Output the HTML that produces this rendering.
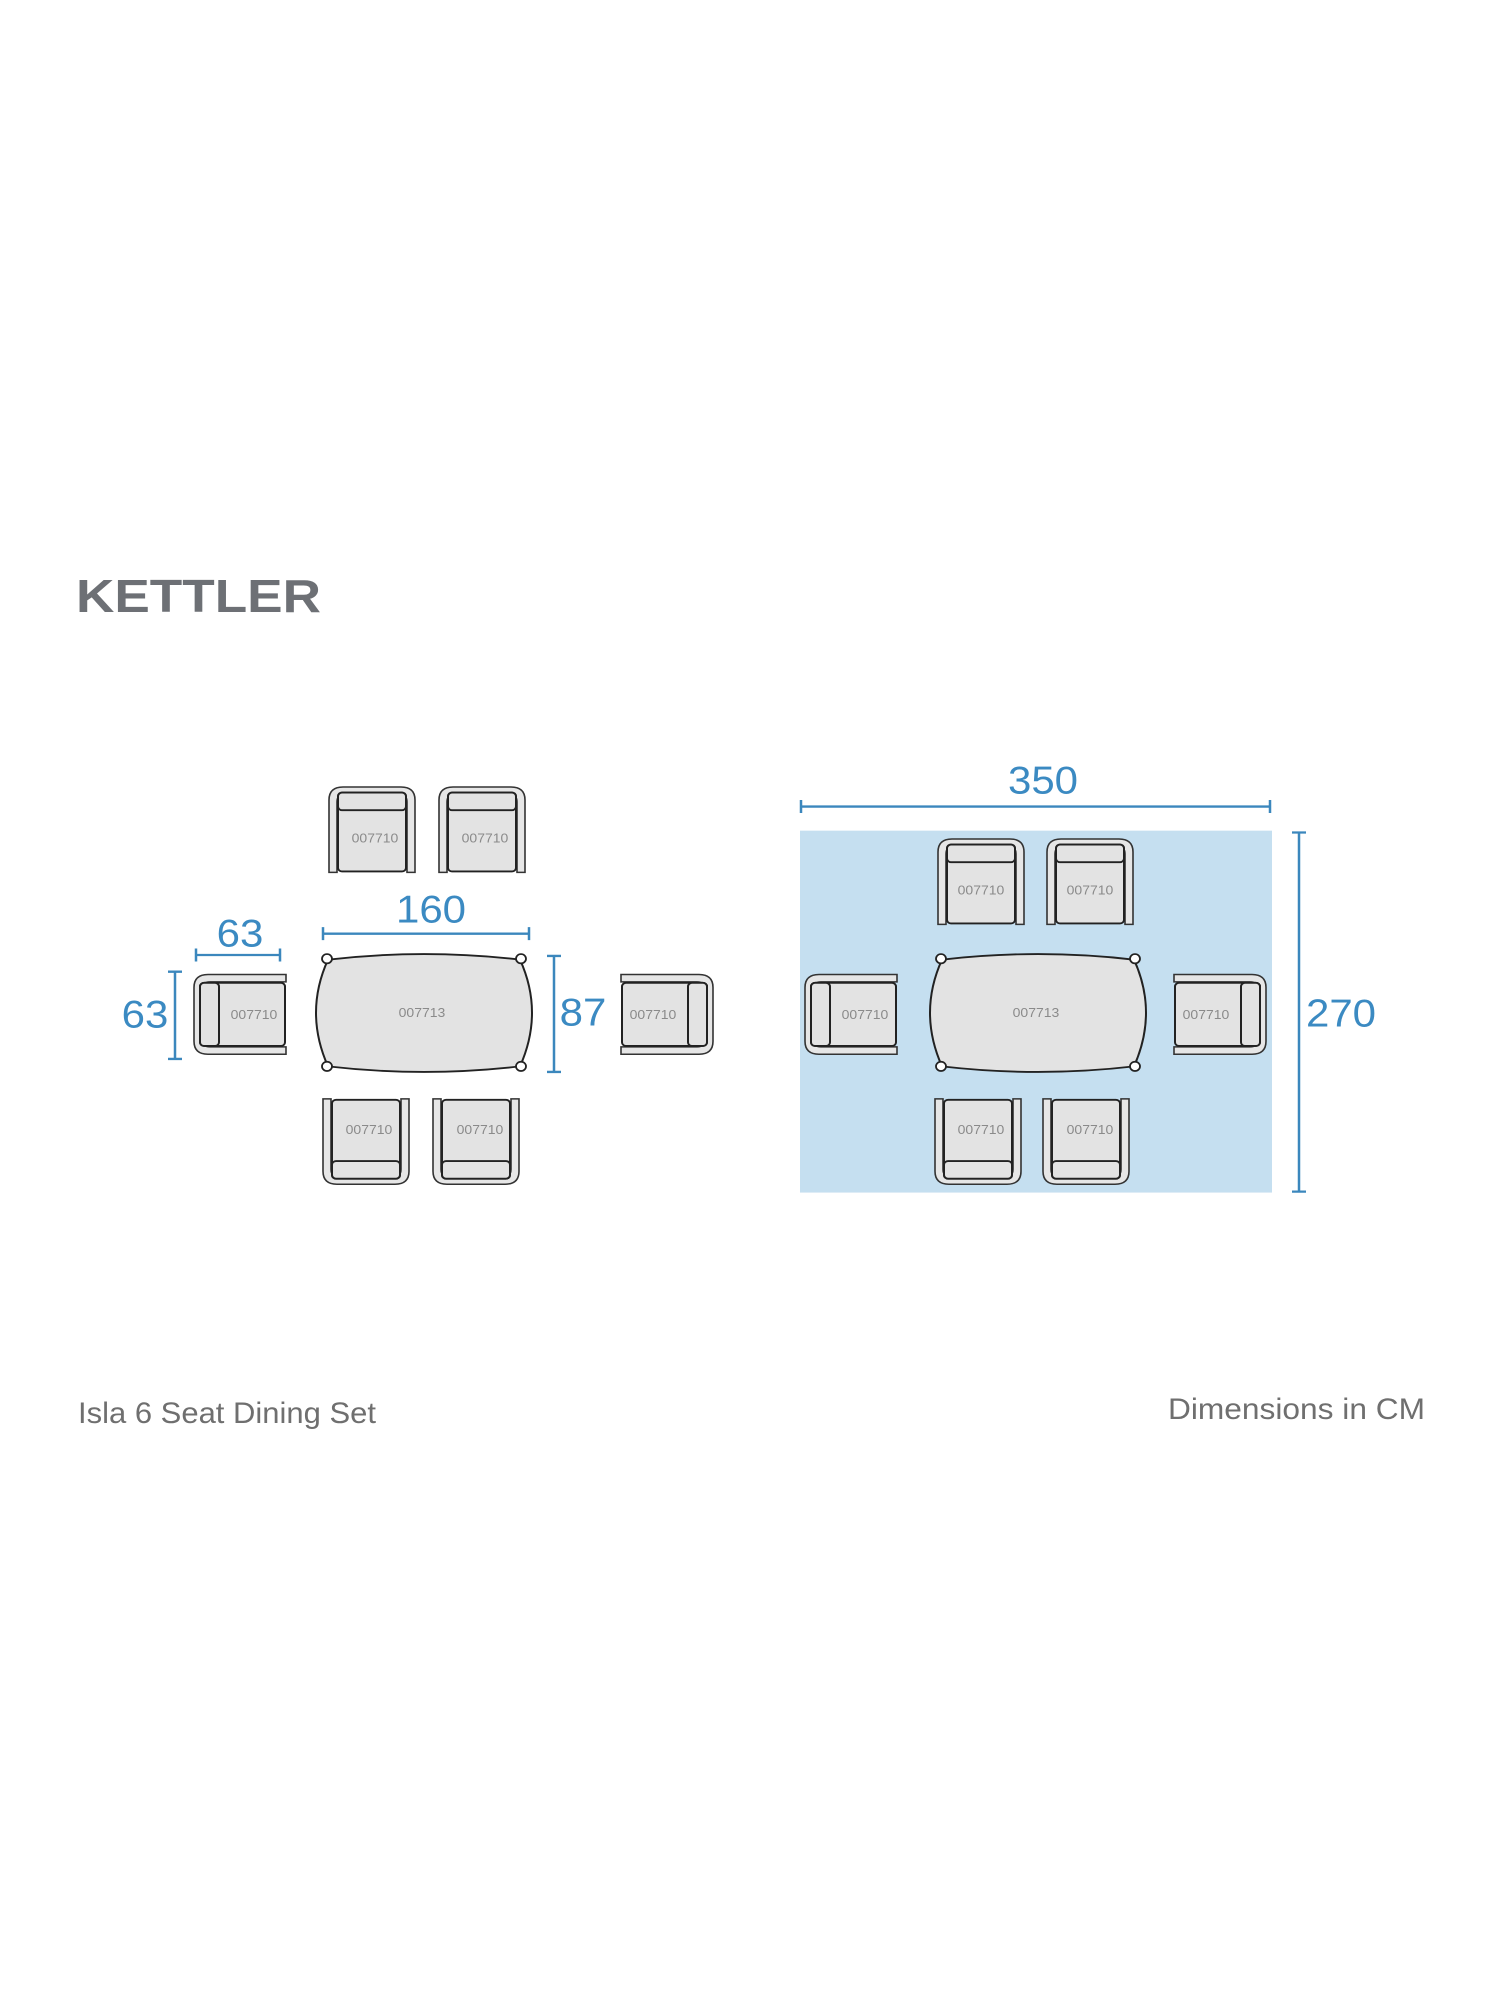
<!DOCTYPE html>
<html><head><meta charset="utf-8"><style>
html,body{margin:0;padding:0;background:#fff;}
svg{display:block;}
.dim{stroke:#3b87bd;stroke-width:2.5;fill:none;}
.num{fill:#3b8ac2;font-family:"Liberation Sans",sans-serif;font-size:42px;}
.lbl{fill:#8a8a8a;font-family:"Liberation Sans",sans-serif;font-size:14px;text-anchor:middle;}
.ft{fill:#6f6f6f;font-family:"Liberation Sans",sans-serif;font-size:30px;}
</style></head><body>
<svg width="1500" height="2000" viewBox="0 0 1500 2000" xmlns="http://www.w3.org/2000/svg">
<defs>
<g id="chair">
<path d="M-43 46 L-43 -32 Q-43 -46 -29 -46 L29 -46 Q43 -46 43 -32 L43 46 L35 46 L35 -30 Q35 -38 27 -38 L-27 -38 Q-35 -38 -35 -30 L-35 46 Z" fill="#e6e6e6" stroke="#333" stroke-width="1.6"/>
<rect x="-34" y="-40" width="68" height="85" rx="4" fill="#e3e3e3" stroke="#222" stroke-width="2"/>
<rect x="-34" y="-40" width="68" height="19" rx="4" fill="#e3e3e3" stroke="#222" stroke-width="2"/>
</g>
<g id="tbl">
<path d="M-96 -57 Q0 -69 96 -57 Q120 0 96 58 Q0 70 -96 58 Q-120 0 -96 -57 Z" fill="#e3e3e3" stroke="#222" stroke-width="2"/>
<circle cx="-97" cy="-58" r="5" fill="#fff" stroke="#222" stroke-width="1.8"/>
<circle cx="97" cy="-58" r="5" fill="#fff" stroke="#222" stroke-width="1.8"/>
<circle cx="-97" cy="58" r="5" fill="#fff" stroke="#222" stroke-width="1.8"/>
<circle cx="97" cy="58" r="5" fill="#fff" stroke="#222" stroke-width="1.8"/>
</g>
</defs>

<text x="76" y="612" font-family="Liberation Sans, sans-serif" font-weight="bold" font-size="46" fill="#6d7075" textLength="245" lengthAdjust="spacingAndGlyphs">KETTLER</text>

<g transform="matrix(1,0,0,0.928,0,40)">
<!-- LEFT SET -->
<use href="#chair" transform="translate(372,851)"/>
<use href="#chair" transform="translate(482,851)"/>
<use href="#chair" transform="translate(366,1187) rotate(180)"/>
<use href="#chair" transform="translate(476,1187) rotate(180)"/>
<use href="#chair" transform="translate(240,1050) rotate(-90)"/>
<use href="#chair" transform="translate(667,1050) rotate(90)"/>
<use href="#tbl" transform="translate(424,1048)"/>
<text class="lbl" x="375" y="865">007710</text>
<text class="lbl" x="485" y="865">007710</text>
<text class="lbl" x="369" y="1179">007710</text>
<text class="lbl" x="480" y="1179">007710</text>
<text class="lbl" x="254" y="1055">007710</text>
<text class="lbl" x="653" y="1055">007710</text>
<text class="lbl" x="422" y="1053">007713</text>

<path class="dim" d="M196 986 H280 M196 979 V993 M280 979 V993"/>
<text class="num" x="240" y="977" text-anchor="middle">63</text>
<path class="dim" d="M323 963 H529 M323 956 V970 M529 956 V970"/>
<text class="num" x="431" y="951" text-anchor="middle">160</text>
<path class="dim" d="M175 1004 V1098 M168 1004 H182 M168 1098 H182"/>
<text class="num" x="145" y="1064" text-anchor="middle">63</text>
<path class="dim" d="M554 987 V1112 M547 987 H561 M547 1112 H561"/>
<text class="num" x="583" y="1062" text-anchor="middle">87</text>

<!-- RIGHT SET -->
<rect x="800" y="852" width="472" height="390" fill="#c5dff0"/>
<use href="#chair" transform="translate(981,907)"/>
<use href="#chair" transform="translate(1090,907)"/>
<use href="#chair" transform="translate(978,1187) rotate(180)"/>
<use href="#chair" transform="translate(1086,1187) rotate(180)"/>
<use href="#chair" transform="translate(851,1050) rotate(-90)"/>
<use href="#chair" transform="translate(1220,1050) rotate(90)"/>
<use href="#tbl" transform="translate(1038,1048)"/>
<text class="lbl" x="981" y="921">007710</text>
<text class="lbl" x="1090" y="921">007710</text>
<text class="lbl" x="981" y="1179">007710</text>
<text class="lbl" x="1090" y="1179">007710</text>
<text class="lbl" x="865" y="1055">007710</text>
<text class="lbl" x="1206" y="1055">007710</text>
<text class="lbl" x="1036" y="1053">007713</text>

<path class="dim" d="M801 826 H1270 M801 819 V833 M1270 819 V833"/>
<text class="num" x="1043" y="812" text-anchor="middle">350</text>
<path class="dim" d="M1299 854 V1241 M1292 854 H1306 M1292 1241 H1306"/>
<text class="num" x="1341" y="1063" text-anchor="middle">270</text>
</g>

<text class="ft" x="78" y="1423" textLength="298" lengthAdjust="spacingAndGlyphs">Isla 6 Seat Dining Set</text>
<text class="ft" x="1168" y="1419" textLength="257" lengthAdjust="spacingAndGlyphs">Dimensions in CM</text>
</svg>
</body></html>
